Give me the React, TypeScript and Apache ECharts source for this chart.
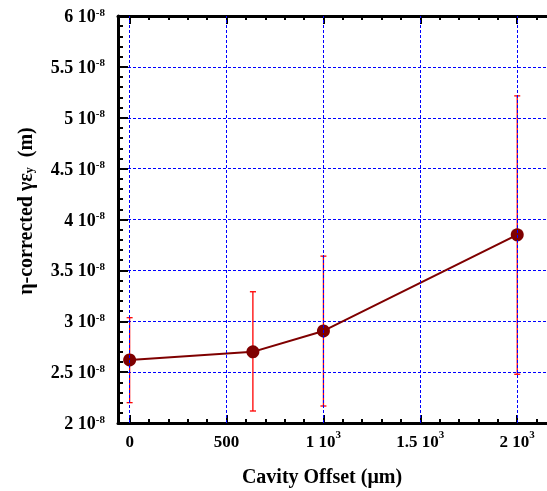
import React, { useEffect, useRef } from "react";
import * as echarts from "echarts";

// Cavity offset (µm)
const offsets = [0, 636, 1000, 2000];
// η-corrected γε_y in units of 1e-8 m
const emittance = [2.62, 2.7, 2.905, 3.85];
const errLow = [2.2, 2.118, 2.167, 2.479];
const errHigh = [3.035, 3.29, 3.64, 5.215];

const xMin = -60;
const xMax = 2200;
const xMajorTicks = [0, 500, 1000, 1500, 2000];
const xMinorTicks = [100, 200, 300, 400, 600, 700, 800, 900, 1100, 1200, 1300, 1400, 1600, 1700, 1800, 1900, 2100];
const yMin = 2;
const yMax = 6;
const yInterval = 0.5;
const yExponent = "-8";

const FONT = "'Liberation Serif', 'Times New Roman', serif";

function fmtNum(v: number): string {
  return String(Math.round(v * 100) / 100);
}

function xLabel(v: number): string {
  if (v < 1000) return `{m|${fmtNum(v)}}`;
  return `{m|${fmtNum(v / 1000)} 10}{s|3}`;
}

function yLabel(v: number): string {
  return `{m|${fmtNum(v)} 10}{s|${yExponent}}`;
}

export default function App() {
  const ref = useRef<HTMLDivElement>(null);
  useEffect(() => {
    if (!ref.current) return;
    const chart = echarts.init(ref.current, null, { renderer: "svg" });
    const lineData = offsets.map((x, i) => [x, emittance[i]]);
    const errData = offsets.map((x, i) => [x, errLow[i], errHigh[i]]);
    const axisLine = { show: true, onZero: false, lineStyle: { color: "#000", width: 3 } };
    const gridStyle = { color: "#0000ff", width: 1, type: [3, 2] as any };
    const majorTick = { show: true, inside: true, length: 8, lineStyle: { color: "#000", width: 2 } };
    const minorTickAsMajor = { show: true, inside: true, length: 4, lineStyle: { color: "#000", width: 2 } };
    const baseX = { type: "value", min: xMin, max: xMax, gridIndex: 0 };
    chart.setOption({
      animation: false,
      grid: { left: 118, top: 16, width: 438, height: 407, containLabel: false, outerBoundsMode: "none" },
      xAxis: [
        {
          ...baseX,
          position: "bottom",
          axisLine,
          axisTick: { ...majorTick, customValues: xMajorTicks },
          minorTick: { show: false },
          splitLine: { show: false },
          axisLabel: {
            show: true,
            margin: 5,
            customValues: xMajorTicks,
            formatter: xLabel,
            rich: {
              m: { fontFamily: FONT, fontWeight: "bold", fontSize: 17, color: "#000", lineHeight: 26 },
              s: { fontFamily: FONT, fontWeight: "bold", fontSize: 11, color: "#000", lineHeight: 6, verticalAlign: "top" },
            },
          },
        },
        {
          ...baseX,
          position: "top",
          axisLine,
          axisTick: { ...majorTick, customValues: xMajorTicks },
          minorTick: { show: false },
          splitLine: { show: false },
          axisLabel: { show: false },
        },
        {
          ...baseX,
          position: "bottom",
          axisLine: { show: false },
          axisTick: { ...minorTickAsMajor, customValues: xMinorTicks },
          minorTick: { show: false },
          splitLine: { show: false },
          axisLabel: { show: false },
        },
        {
          ...baseX,
          position: "top",
          axisLine: { show: false },
          axisTick: { ...minorTickAsMajor, customValues: xMinorTicks },
          minorTick: { show: false },
          splitLine: { show: false },
          axisLabel: { show: false },
        },
      ],
      yAxis: [
        {
          type: "value",
          position: "left",
          min: yMin,
          max: yMax,
          interval: yInterval,
          axisLine,
          axisTick: { show: true, inside: true, length: 10, lineStyle: { color: "#000", width: 2 } },
          minorTick: { show: true, splitNumber: 5, length: 5, lineStyle: { color: "#000", width: 2 } },
          splitLine: { show: true, lineStyle: gridStyle },
          axisLabel: {
            show: true,
            margin: 13,
            formatter: yLabel,
            showMinLabel: true,
            showMaxLabel: true,
            rich: {
              m: { fontFamily: FONT, fontWeight: "bold", fontSize: 18, color: "#000", lineHeight: 20 },
              s: { fontFamily: FONT, fontWeight: "bold", fontSize: 11, color: "#000", lineHeight: 9, verticalAlign: "top" },
            },
          },
        },
      ],
      graphic: [
        {
          type: "text",
          x: 322,
          y: 476,
          style: {
            text: "Cavity Offset (μm)",
            font: `bold 20px ${FONT}`,
            fill: "#000",
            align: "center",
            verticalAlign: "middle",
          },
        },
        {
          type: "text",
          x: 25,
          y: 211,
          rotation: Math.PI / 2,
          style: {
            text: "{a|η-corrected γε}{b|y}{a|  (m)}",
            align: "center",
            verticalAlign: "middle",
            rich: {
              a: { fontFamily: FONT, fontWeight: "bold", fontSize: 20, fill: "#000", color: "#000", lineHeight: 20 },
              b: { fontFamily: FONT, fontWeight: "bold", fontSize: 12, fill: "#000", color: "#000", lineHeight: 6, verticalAlign: "bottom" },
            },
          },
        },
      ],
      series: [
        {
          type: "line",
          z: 1,
          xAxisIndex: 0,
          data: [],
          silent: true,
          markLine: {
            silent: true,
            symbol: "none",
            animation: false,
            label: { show: false },
            lineStyle: gridStyle,
            data: xMajorTicks.map((v) => ({ xAxis: v })),
          },
        },
        {
          type: "custom",
          z: 3,
          xAxisIndex: 0,
          data: errData,
          encode: { x: 0, y: [1, 2] },
          renderItem: (params: any, api: any) => {
            const x = api.value(0);
            const lo = api.coord([x, api.value(1)]);
            const hi = api.coord([x, api.value(2)]);
            const cap = 3;
            const style = { stroke: "#ff0000", lineWidth: 1.3 };
            return {
              type: "group",
              children: [
                { type: "line", shape: { x1: lo[0], y1: lo[1], x2: hi[0], y2: hi[1] }, style },
                { type: "line", shape: { x1: lo[0] - cap, y1: lo[1], x2: lo[0] + cap, y2: lo[1] }, style },
                { type: "line", shape: { x1: hi[0] - cap, y1: hi[1], x2: hi[0] + cap, y2: hi[1] }, style },
              ],
            };
          },
        },
        {
          type: "line",
          z: 4,
          xAxisIndex: 0,
          data: lineData,
          symbol: "circle",
          symbolSize: 13,
          lineStyle: { color: "#7f0000", width: 2 },
          itemStyle: { color: "#7f0000" },
        },
      ],
    });
    return () => chart.dispose();
  }, []);
  return (
    <div
      ref={ref}
      style={{ position: "fixed", left: 0, top: 0, width: 547, height: 491 }}
    />
  );
}
